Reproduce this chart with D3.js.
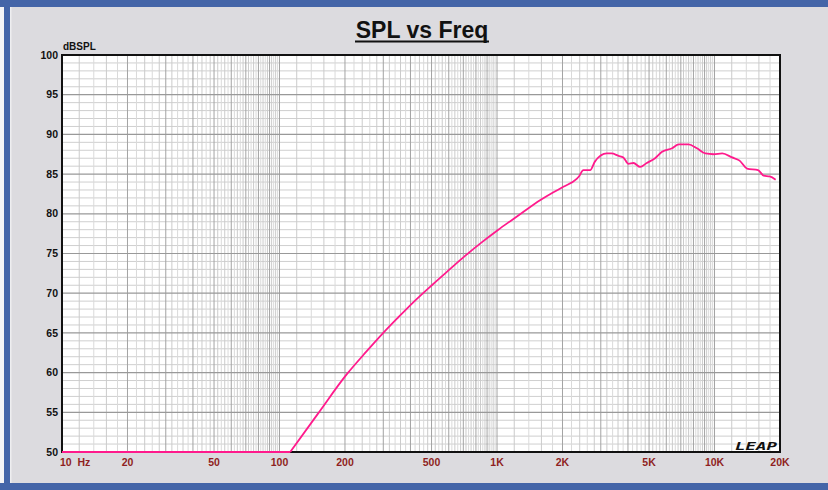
<!DOCTYPE html>
<html><head><meta charset="utf-8">
<script src="https://cdn.jsdelivr.net/npm/d3@7"></script>
<style>
html,body{margin:0;padding:0;background:#dcdbdf;}
svg{display:block;}
</style></head>
<body>
<script>
// ---- data ----
const freqHz = [10, 50, 100, 112, 150, 204, 250, 300, 350, 412, 506, 600, 713, 850, 1014, 1168, 1300, 1577, 1800, 2018, 2324, 2380, 2494, 2680, 2823, 3193, 3360, 3620, 3810, 4020, 4240, 4550, 4880, 5330, 5740, 6380, 6850, 7600, 8300, 9070, 9900, 10850, 12050, 13040, 14110, 15860, 16830, 17930, 19100];
const splDb  = [50, 50, 50, 50, 54.8, 59.8, 62.6, 65.0, 66.9, 68.85, 71.1, 72.9, 74.7, 76.4, 78.0, 79.2, 80.1, 81.7, 82.65, 83.4, 84.4, 84.7, 85.5, 85.5, 86.6, 87.6, 87.6, 87.3, 87.1, 86.3, 86.4, 85.9, 86.4, 87.0, 87.8, 88.25, 88.75, 88.75, 88.25, 87.6, 87.5, 87.6, 87.1, 86.7, 85.7, 85.5, 84.8, 84.7, 84.3];
const yTicks = [50, 55, 60, 65, 70, 75, 80, 85, 90, 95, 100];
const xTickValues = [10, 20, 50, 100, 200, 500, 1000, 2000, 5000, 10000, 20000];
const xTickLabels = ["10  Hz", "20", "50", "100", "200", "500", "1K", "2K", "5K", "10K", "20K"];

const W = 828, H = 490;
const L = 62, R = 780, T = 55, B = 452;

const svg = d3.select("body").append("svg").attr("width", W).attr("height", H);

// background + frame
svg.append("rect").attr("x",0).attr("y",0).attr("width",W).attr("height",H).attr("fill","#dcdbdf");
svg.append("rect").attr("x",0).attr("y",0).attr("width",4).attr("height",H).attr("fill","#f4f4f6");
svg.append("rect").attr("x",4).attr("y",0).attr("width",6).attr("height",H).attr("fill","#4465a8");
svg.append("rect").attr("x",0).attr("y",0).attr("width",W).attr("height",7).attr("fill","#4465a8");
svg.append("rect").attr("x",0).attr("y",483).attr("width",W).attr("height",7).attr("fill","#4465a8");
svg.append("rect").attr("x",10).attr("y",7).attr("width",1.5).attr("height",476).attr("fill","#eeeef0");

const x = d3.scaleLog().domain([10, 20000]).range([L, R]);
const y = d3.scaleLinear().domain([50, 100]).range([B, T]);

svg.append("rect").attr("x",L).attr("y",T).attr("width",R-L).attr("height",B-T).attr("fill","#ffffff");

const grid = svg.append("g");
// horizontal minor every 1 dB
d3.range(51, 100).filter(v => v % 5 !== 0).forEach(v => {
  grid.append("line").attr("x1",L).attr("x2",R).attr("y1",y(v)).attr("y2",y(v))
    .attr("stroke","#cfcfcf").attr("stroke-width",1);
});
// vertical grid
const vlines = [];
[10, 100, 1000, 10000].forEach(d => {
  for (let k = 10; k < 100; k += 2) {
    const f = d * k / 10;
    if (f > 20000) break;
    vlines.push({f, major: k % 10 === 0, alt: (k/2) % 2 === 1});
  }
});
vlines.forEach(v => {
  if (v.f <= 10 || v.f >= 20000) return;
  grid.append("line").attr("x1",x(v.f)).attr("x2",x(v.f)).attr("y1",T).attr("y2",B)
    .attr("stroke", v.major ? "#a3a3a3" : (v.alt ? "#dadada" : "#cbcbcb"))
    .attr("stroke-width",1);
});
// horizontal major every 5 dB
yTicks.slice(1, -1).forEach(v => {
  grid.append("line").attr("x1",L).attr("x2",R).attr("y1",y(v)).attr("y2",y(v))
    .attr("stroke","#999999").attr("stroke-width",1.2);
});

// plot frame
svg.append("rect").attr("x",L).attr("y",T).attr("width",R-L).attr("height",B-T)
  .attr("fill","none").attr("stroke","#111").attr("stroke-width",2);

// curve
svg.append("clipPath").attr("id","clip").append("rect")
  .attr("x",L).attr("y",T-2).attr("width",R-L).attr("height",B-T+4);
const pts = freqHz.map((f,i)=>[x(f), y(splDb[i])]);
const knee = freqHz.indexOf(112);
const flat = d3.line();
const smooth = d3.line().curve(d3.curveMonotoneX);
const cg = svg.append("g").attr("clip-path","url(#clip)")
  .attr("fill","none").attr("stroke","#ff1a8c").attr("stroke-width",1.8).attr("stroke-linejoin","round");
cg.append("path").attr("d", flat(pts.slice(0, knee+1)));
cg.append("path").attr("d", smooth(pts.slice(knee)));

// y labels
svg.append("g").selectAll("text").data(yTicks).join("text")
  .attr("x",58).attr("y",d=>y(d)).attr("dy","0.35em").attr("text-anchor","end")
  .attr("font-family","Liberation Sans, Arial, sans-serif").attr("font-weight","bold")
  .attr("font-size",10.5).attr("fill","#111").text(d=>d);
svg.append("text").attr("x",63).attr("y",50).attr("font-family","Liberation Sans, Arial, sans-serif")
  .attr("font-weight","bold").attr("font-size",10).attr("fill","#111").text("dBSPL");

// x labels
svg.append("g").selectAll("text").data(xTickValues).join("text")
  .attr("x",(d,i)=> i===0 ? 60 : x(d)).attr("y",466)
  .attr("text-anchor",(d,i)=> i===0 ? "start" : "middle")
  .style("white-space","pre")
  .attr("font-family","Liberation Sans, Arial, sans-serif").attr("font-weight","bold")
  .attr("font-size",10.5).attr("fill","#8f1f22").text((d,i)=>xTickLabels[i]);

// title
svg.append("text").attr("x",422).attr("y",38).attr("text-anchor","middle")
  .attr("font-family","Liberation Sans, Arial, sans-serif").attr("font-weight","bold")
  .attr("font-size",23).attr("fill","#111").text("SPL vs Freq");
svg.append("rect").attr("x",355).attr("y",40.5).attr("width",134).attr("height",2).attr("fill","#111");

// LEAP logo
svg.append("text").attr("x",735).attr("y",450).attr("textLength",42).attr("lengthAdjust","spacingAndGlyphs")
  .attr("font-family","DejaVu Sans Mono, monospace").attr("font-weight","bold").attr("font-style","italic")
  .attr("font-size",10).attr("fill","#111").text("LEAP");
</script>
</body></html>
